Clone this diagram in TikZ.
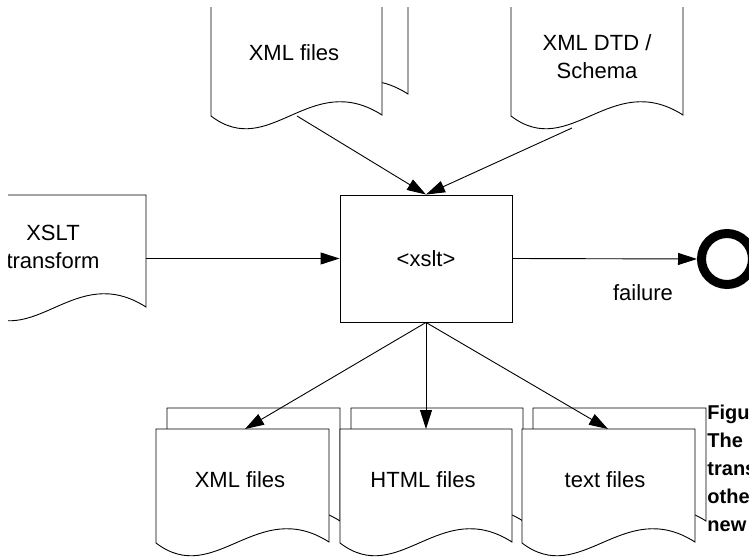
\documentclass[tikz,border=0pt]{standalone}
\usepackage{fontspec}
\setmainfont{Liberation Sans}
\usepackage{tikz}
\usetikzlibrary{arrows.meta}

% a sheet with a wavy bottom: left x, top y, width, left height
\newcommand*\docpage[4]{%
  \draw[fill=white] (#1,#2) -- (#1,#2+#4)
    .. controls +(59,45) and +(-72,-46) .. ++(#3,-1)
    -- (#1+#3,#2) -- cycle;%
}

\begin{document}
\begin{tikzpicture}[x=1pt, y=-1pt, line width=0.9pt,
  >={Triangle[length=19pt,width=12pt]},
  font=\fontsize{22}{28}\selectfont]

\useasboundingbox (0,0) rectangle (749,559);
\clip (8,8) rectangle (749,559);

% inputs
\docpage{237}{-31}{171}{126}
\docpage{211}{-10}{171}{126}
\docpage{511}{-10}{172}{126}
\docpage{-25}{195}{171}{113}

% outputs
\docpage{167}{408}{173}{114}
\docpage{156}{429}{173}{114}
\docpage{351}{408}{172}{114}
\docpage{340}{429}{172}{114}
\docpage{533}{408}{173}{114}
\docpage{522}{429}{173}{114}

\node (xmlin) at (294,53) {XML files};
\node[align=center] (schema) at (597,57) {XML DTD /\\Schema};
\node[align=center] (xsltdoc) at (53,247) {XSLT\\transform};

\node[draw, minimum width=172pt, minimum height=127pt] (xslt) at (426,258.5) {<xslt>};
\node[draw, circle, line width=9pt, minimum size=51pt, inner sep=0pt] (fail) at (727,259) {};
\node (failtext) at (643,293) {failure};

\node (xmlout) at (240,480) {XML files};
\node (htmlout) at (423,480) {HTML files};
\node (textout) at (605,480) {text files};

\coordinate (xmlin-out) at (297,116);
\coordinate (schema-out) at (572,128);
\coordinate (xsltdoc-out) at (146,258.5);
\coordinate (xmlout-in) at (245,429);
\coordinate (htmlout-in) at (426,429);
\coordinate (textout-in) at (608,429);

\draw[->] (xmlin-out) -- (xslt.north);
\draw[->] (schema-out) -- (xslt.north);
\draw[->] (xsltdoc-out) -- (xslt.west);
\draw[->] (xslt.east) -- (fail.west);
\draw[->] (xslt.south) -- (xmlout-in);
\draw[->] (xslt.south) -- (htmlout-in);
\draw[->] (xslt.south) -- (textout-in);

\node[anchor=north west, inner sep=0pt, align=left,
  font=\fontsize{20}{28}\selectfont\bfseries] (caption) at (707,405)
  {Figu\\The\\trans\\othe\\new};
\end{tikzpicture}
\end{document}
